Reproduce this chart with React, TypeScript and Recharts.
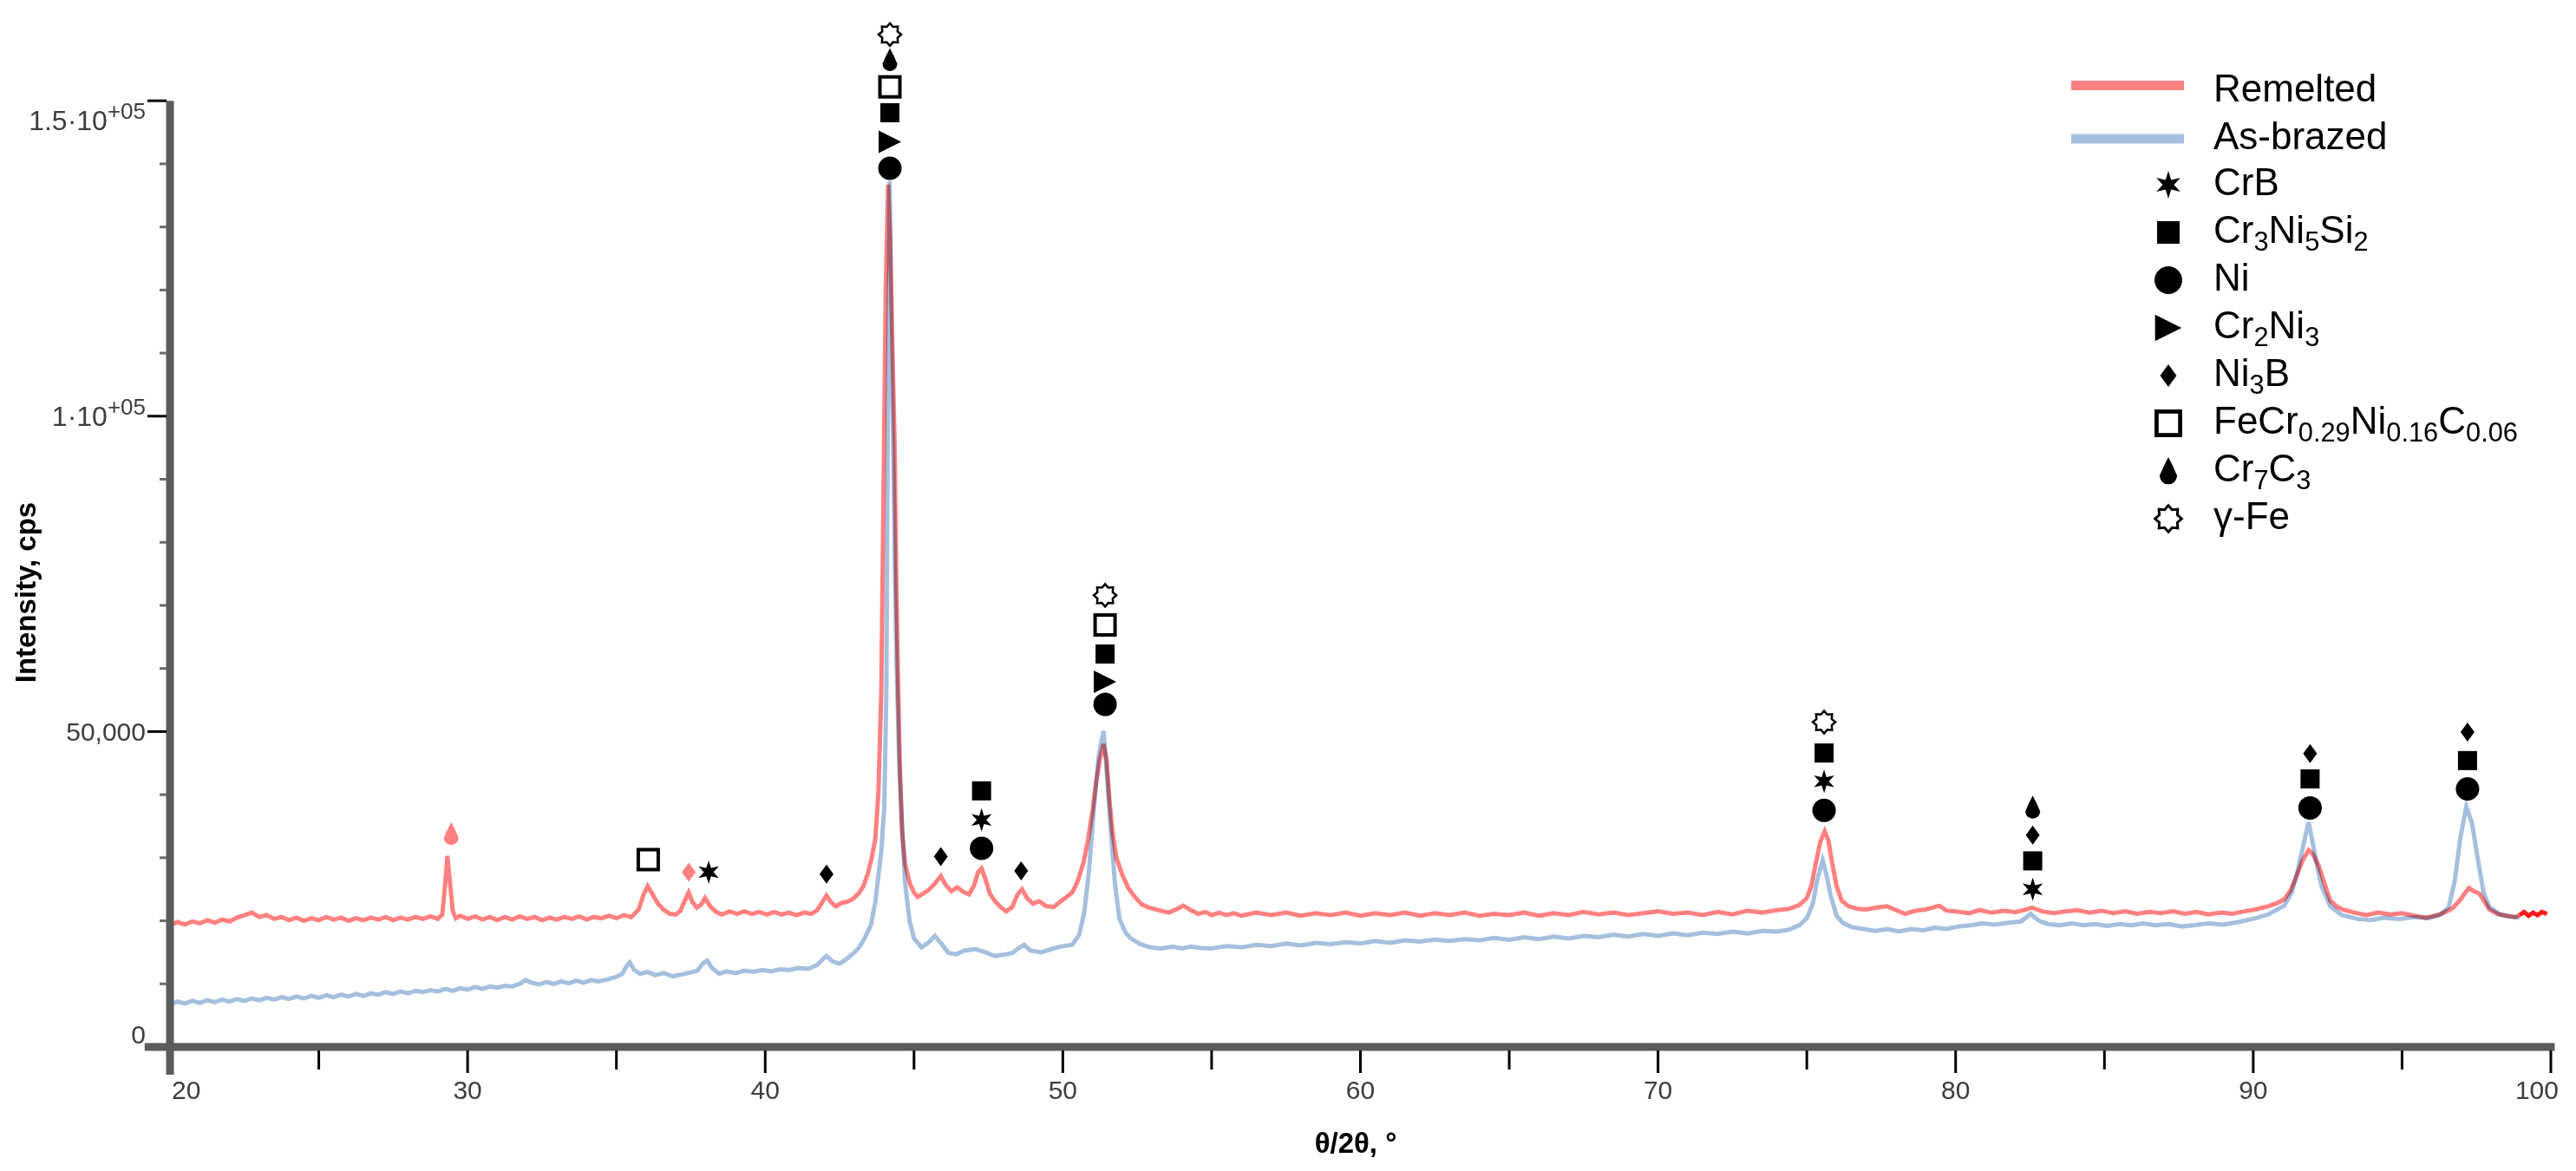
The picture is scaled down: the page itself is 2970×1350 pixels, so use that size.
import React from "react"
import {
  ComposedChart,
  Line,
  Scatter,
  XAxis,
  YAxis,
  ReferenceLine,
  Legend,
  Label,
} from "recharts"

const FONT = '"Liberation Sans", Arial, Helvetica, sans-serif'
const REMELTED_COLOR = "#ff8080"
const REMELTED_END_COLOR = "#ff1a1a"
const AS_BRAZED_COLOR = "#a6bfdf"
const AXIS_COLOR = "#5b5b5b"
const TICK_TEXT = "#3d3d3d"
const LINE_W = 5

// chart geometry
const CHART_W = 2954
const CHART_H = 1334
const Y_AXIS_W = 188
const X_AXIS_H = 135
const MARGIN = { top: 10, right: 21, bottom: 0, left: 0 }
const AXIS_X = MARGIN.left + Y_AXIS_W
const AXIS_Y = CHART_H - MARGIN.bottom - X_AXIS_H

// 2θ (°), intensity (cps)
const remelted: [number, number][] = [
  [20.0, 19300], [20.25, 19800], [20.5, 19400], [20.75, 19900], [21.0, 19600], [21.25, 20100],
  [21.5, 19700], [21.75, 20200], [22.0, 19900], [22.25, 20500], [22.5, 20900], [22.75, 21300],
  [23.0, 20600], [23.25, 20900], [23.5, 20300], [23.75, 20600], [24.0, 20100], [24.25, 20500],
  [24.5, 20000], [24.75, 20400], [25.0, 20100], [25.25, 20600], [25.5, 20200], [25.75, 20500],
  [26.0, 20000], [26.25, 20400], [26.5, 20100], [26.75, 20500], [27.0, 20200], [27.25, 20600],
  [27.5, 20100], [27.75, 20500], [28.0, 20200], [28.25, 20600], [28.5, 20300], [28.75, 20700],
  [29.0, 20300], [29.15, 21000], [29.25, 26000], [29.32, 30300], [29.4, 26500], [29.5, 21600],
  [29.6, 20400], [29.75, 20800], [30.0, 20300], [30.25, 20700], [30.5, 20200], [30.75, 20600],
  [31.0, 20100], [31.25, 20600], [31.5, 20200], [31.75, 20700], [32.0, 20300], [32.25, 20600],
  [32.5, 20100], [32.75, 20500], [33.0, 20200], [33.25, 20600], [33.5, 20300], [33.75, 20700],
  [34.0, 20200], [34.25, 20600], [34.5, 20400], [34.75, 20800], [35.0, 20400], [35.25, 20900],
  [35.5, 20600], [35.75, 21800], [35.9, 24000], [36.05, 25500], [36.2, 24300], [36.4, 22700],
  [36.6, 21700], [36.8, 21100], [37.0, 21000], [37.15, 21600], [37.3, 23200], [37.43, 24500],
  [37.55, 23000], [37.7, 22100], [37.85, 22600], [37.98, 23600], [38.15, 22300], [38.35, 21400],
  [38.55, 21000], [38.8, 21500], [39.05, 21100], [39.3, 21500], [39.55, 21100], [39.8, 21400],
  [40.05, 21000], [40.3, 21400], [40.55, 21000], [40.8, 21300], [41.05, 20900], [41.3, 21300],
  [41.55, 21100], [41.75, 21700], [41.95, 23200], [42.06, 24000], [42.2, 23000], [42.38, 22300],
  [42.55, 22800], [42.75, 23000], [42.95, 23500], [43.15, 24400], [43.3, 25500], [43.45, 27500],
  [43.58, 30000], [43.7, 33000], [43.8, 40000], [43.9, 56000], [43.98, 90000], [44.05, 120000],
  [44.13, 136700], [44.2, 128000], [44.27, 112000], [44.35, 95000], [44.41, 72000], [44.47, 56000],
  [44.54, 42000], [44.6, 34000], [44.7, 29000], [44.86, 25900], [45.0, 24500], [45.12, 23800],
  [45.3, 24300], [45.5, 24900], [45.7, 25900], [45.9, 27100], [46.05, 25800], [46.25, 24700],
  [46.45, 25300], [46.65, 24600], [46.85, 24200], [47.02, 25600], [47.15, 27700], [47.27, 28300],
  [47.4, 26600], [47.55, 24300], [47.72, 23100], [47.9, 22200], [48.1, 21500], [48.3, 22200],
  [48.48, 24200], [48.63, 25000], [48.8, 23600], [49.0, 22700], [49.2, 23100], [49.45, 22300],
  [49.7, 22200], [49.9, 23000], [50.1, 23700], [50.32, 24500], [50.5, 26300], [50.7, 29300],
  [50.85, 32900], [51.0, 37500], [51.12, 42000], [51.24, 45500], [51.37, 48000], [51.47, 45500],
  [51.57, 39000], [51.67, 34000], [51.8, 30000], [52.0, 27300], [52.2, 25200], [52.4, 23900],
  [52.65, 22600], [52.9, 22100], [53.2, 21700], [53.55, 21300], [53.85, 21900], [54.05, 22400],
  [54.3, 21700], [54.55, 21100], [54.8, 21400], [55.0, 20900], [55.25, 21300], [55.5, 20900],
  [55.75, 21200], [56.0, 20800], [56.5, 21300], [57.0, 20900], [57.5, 21300], [58.0, 20800],
  [58.5, 21200], [59.0, 20900], [59.5, 21300], [60.0, 20800], [60.5, 21200], [61.0, 20900],
  [61.5, 21300], [62.0, 20800], [62.5, 21200], [63.0, 20900], [63.5, 21300], [64.0, 20800],
  [64.5, 21100], [65.0, 20900], [65.5, 21300], [66.0, 20800], [66.5, 21200], [67.0, 20900],
  [67.5, 21400], [68.0, 21000], [68.5, 21300], [69.0, 20900], [69.5, 21200], [70.0, 21500],
  [70.5, 21100], [71.0, 21300], [71.5, 20900], [72.0, 21400], [72.5, 21000], [73.0, 21600],
  [73.5, 21300], [74.0, 21700], [74.4, 21900], [74.75, 22500], [75.0, 23600], [75.15, 25500],
  [75.3, 29100], [75.45, 32500], [75.6, 34200], [75.72, 32800], [75.87, 28700], [76.0, 25500],
  [76.17, 23200], [76.4, 22300], [76.7, 21900], [77.0, 21800], [77.35, 22100], [77.7, 22300],
  [78.0, 21700], [78.3, 21100], [78.65, 21600], [79.0, 21800], [79.45, 22400], [79.7, 21600],
  [80.0, 21500], [80.45, 21200], [80.8, 21700], [81.2, 21300], [81.6, 21600], [82.0, 21400],
  [82.3, 21700], [82.57, 22100], [82.9, 21500], [83.3, 21200], [83.7, 21500], [84.1, 21700],
  [84.5, 21300], [84.9, 21600], [85.3, 21200], [85.7, 21500], [86.1, 21100], [86.5, 21400],
  [86.9, 21200], [87.3, 21500], [87.7, 21100], [88.1, 21400], [88.5, 21000], [88.9, 21300],
  [89.3, 21100], [89.7, 21500], [90.07, 21800], [90.5, 22300], [90.8, 22800], [91.04, 23400],
  [91.25, 24800], [91.43, 26800], [91.65, 29500], [91.86, 31200], [92.0, 30600], [92.2, 28700],
  [92.4, 25800], [92.59, 23200], [92.8, 22300], [93.0, 21800], [93.4, 21300], [93.8, 20900],
  [94.2, 21300], [94.6, 21000], [95.0, 21200], [95.4, 20800], [95.8, 20500], [96.2, 20900],
  [96.5, 21500], [96.7, 22000], [96.95, 23300], [97.1, 24300], [97.25, 25200], [97.4, 24700],
  [97.6, 24300], [97.78, 23000], [97.93, 21800], [98.2, 21100], [98.5, 20800], [98.8, 20600],
  [98.95, 20900],
]

// last stretch of the remelted scan, past the end of the as-brazed one
const remeltedEnd: [number, number][] = [
  [98.95, 20900], [99.1, 21400], [99.25, 20800], [99.4, 21300], [99.55, 20900], [99.7, 21400],
  [99.87, 21100],
]

const asBrazed: [number, number][] = [
  [20.0, 6700], [20.25, 7200], [20.5, 6900], [20.75, 7300], [21.0, 7000], [21.25, 7400],
  [21.5, 7100], [21.75, 7500], [22.0, 7200], [22.25, 7600], [22.5, 7300], [22.75, 7700],
  [23.0, 7400], [23.25, 7800], [23.5, 7500], [23.75, 7900], [24.0, 7600], [24.25, 8000],
  [24.5, 7700], [24.75, 8100], [25.0, 7800], [25.25, 8200], [25.5, 7900], [25.75, 8300],
  [26.0, 8000], [26.25, 8400], [26.5, 8100], [26.75, 8500], [27.0, 8300], [27.25, 8700],
  [27.5, 8400], [27.75, 8800], [28.0, 8500], [28.25, 8900], [28.5, 8700], [28.75, 9000],
  [29.0, 8800], [29.25, 9200], [29.5, 8900], [29.75, 9300], [30.0, 9100], [30.25, 9500],
  [30.5, 9200], [30.75, 9600], [31.0, 9400], [31.25, 9700], [31.5, 9600], [31.75, 10000],
  [31.95, 10600], [32.15, 10200], [32.4, 9900], [32.65, 10300], [32.9, 10000], [33.15, 10400],
  [33.4, 10100], [33.65, 10500], [33.9, 10200], [34.15, 10600], [34.4, 10400], [34.7, 10700],
  [35.0, 11100], [35.2, 11600], [35.35, 12900], [35.45, 13400], [35.6, 12200], [35.8, 11600],
  [36.05, 11900], [36.3, 11400], [36.6, 11700], [36.9, 11200], [37.2, 11500], [37.5, 11800],
  [37.72, 12100], [37.9, 13200], [38.05, 13700], [38.2, 12600], [38.45, 11600], [38.7, 12000],
  [39.0, 11700], [39.3, 12100], [39.6, 11900], [39.9, 12200], [40.2, 12000], [40.5, 12300],
  [40.8, 12200], [41.1, 12500], [41.47, 12400], [41.75, 13000], [41.95, 14000], [42.06, 14400],
  [42.25, 13600], [42.5, 13200], [42.75, 14000], [43.0, 15000], [43.16, 15800], [43.35, 17300],
  [43.55, 19300], [43.7, 23000], [43.8, 27000], [43.9, 31000], [44.0, 38000], [44.07, 56000],
  [44.12, 100000], [44.18, 137300], [44.24, 112000], [44.3, 95000], [44.36, 75000], [44.42, 60000],
  [44.5, 45000], [44.6, 35000], [44.7, 26000], [44.85, 20000], [45.0, 17200], [45.25, 15800],
  [45.5, 16600], [45.7, 17600], [45.9, 16500], [46.16, 14900], [46.42, 14700], [46.7, 15300],
  [47.07, 15500], [47.4, 15000], [47.72, 14400], [48.0, 14600], [48.3, 14900], [48.5, 15600],
  [48.7, 16200], [48.9, 15300], [49.28, 15000], [49.6, 15500], [49.9, 15900], [50.32, 16200],
  [50.55, 17800], [50.72, 21300], [50.88, 28000], [51.04, 37500], [51.2, 46000], [51.37, 50100],
  [51.5, 42000], [51.6, 35200], [51.75, 26000], [51.9, 20400], [52.1, 18200], [52.28, 17200],
  [52.6, 16300], [52.93, 15800], [53.3, 15600], [53.7, 15900], [54.0, 15600], [54.3, 15900],
  [54.6, 15700], [55.0, 15600], [55.5, 16000], [56.0, 15800], [56.5, 16200], [57.0, 16000],
  [57.5, 16400], [58.0, 16100], [58.5, 16500], [59.0, 16300], [59.5, 16600], [60.0, 16400],
  [60.5, 16800], [61.0, 16500], [61.5, 16900], [62.0, 16700], [62.5, 17000], [63.0, 16800],
  [63.5, 17100], [64.0, 16900], [64.5, 17300], [65.0, 17000], [65.5, 17400], [66.0, 17100],
  [66.5, 17500], [67.0, 17200], [67.5, 17600], [68.0, 17400], [68.5, 17800], [69.0, 17500],
  [69.5, 17900], [70.0, 17600], [70.5, 18000], [71.0, 17700], [71.5, 18100], [72.0, 17900],
  [72.5, 18300], [73.0, 18000], [73.5, 18400], [74.0, 18300], [74.4, 18600], [74.75, 19300],
  [75.0, 20400], [75.2, 22700], [75.35, 26500], [75.53, 29600], [75.65, 27500], [75.8, 24000],
  [76.0, 20800], [76.2, 19700], [76.5, 19000], [76.9, 18700], [77.3, 18400], [77.7, 18700],
  [78.1, 18300], [78.5, 18700], [78.9, 18500], [79.3, 18900], [79.7, 18700], [80.1, 19100],
  [80.5, 19300], [80.9, 19600], [81.3, 19400], [81.8, 19700], [82.2, 19900], [82.52, 21100],
  [82.8, 20000], [83.1, 19500], [83.5, 19300], [83.9, 19600], [84.3, 19300], [84.7, 19500],
  [85.1, 19200], [85.5, 19500], [85.9, 19300], [86.3, 19600], [86.7, 19300], [87.16, 19500],
  [87.6, 19100], [88.0, 19300], [88.5, 19600], [89.0, 19400], [89.5, 19800], [90.07, 20400],
  [90.5, 21000], [91.04, 22400], [91.3, 24600], [91.5, 28000], [91.72, 32800], [91.86, 35600],
  [92.0, 32300], [92.15, 28500], [92.3, 25400], [92.59, 22300], [92.98, 20900], [93.5, 20300],
  [93.95, 20100], [94.4, 20500], [94.92, 20300], [95.4, 20600], [95.89, 20400], [96.3, 21000],
  [96.57, 22200], [96.77, 26300], [96.96, 33200], [97.16, 38100], [97.35, 35500], [97.54, 30000],
  [97.74, 24500], [97.93, 22200], [98.3, 21000], [98.6, 20700], [98.95, 20500],
]

type Sym = "star" | "square" | "circle" | "triangle" | "diamond" | "openSquare" | "drop" | "sun"

// phase labels placed over the reflections: 2θ, height (cps), phase symbol, sample if only one
const phaseMarks: { x: number; y: number; sym: Sym; only?: "remelted" }[] = [
  { x: 29.45, y: 33800, sym: "drop", only: "remelted" },
  { x: 36.07, y: 29700, sym: "openSquare" },
  { x: 37.43, y: 27700, sym: "diamond", only: "remelted" },
  { x: 38.1, y: 27700, sym: "star" },
  { x: 42.06, y: 27400, sym: "diamond" },
  { x: 44.19, y: 139300, sym: "circle" },
  { x: 44.19, y: 143500, sym: "triangle" },
  { x: 44.19, y: 148100, sym: "square" },
  { x: 44.19, y: 152200, sym: "openSquare" },
  { x: 44.19, y: 156500, sym: "drop" },
  { x: 44.19, y: 160500, sym: "sun" },
  { x: 45.9, y: 30200, sym: "diamond" },
  { x: 47.27, y: 31500, sym: "circle" },
  { x: 47.27, y: 36000, sym: "star" },
  { x: 47.27, y: 40600, sym: "square" },
  { x: 48.6, y: 27900, sym: "diamond" },
  { x: 51.42, y: 54300, sym: "circle" },
  { x: 51.42, y: 57900, sym: "triangle" },
  { x: 51.42, y: 62300, sym: "square" },
  { x: 51.42, y: 66900, sym: "openSquare" },
  { x: 51.42, y: 71600, sym: "sun" },
  { x: 75.58, y: 37500, sym: "circle" },
  { x: 75.58, y: 42100, sym: "star" },
  { x: 75.58, y: 46600, sym: "square" },
  { x: 75.58, y: 51500, sym: "sun" },
  { x: 82.59, y: 25000, sym: "star" },
  { x: 82.59, y: 29500, sym: "square" },
  { x: 82.59, y: 33600, sym: "diamond" },
  { x: 82.59, y: 38000, sym: "drop" },
  { x: 91.91, y: 37900, sym: "circle" },
  { x: 91.91, y: 42500, sym: "square" },
  { x: 91.91, y: 46500, sym: "diamond" },
  { x: 97.2, y: 40900, sym: "circle" },
  { x: 97.2, y: 45400, sym: "square" },
  { x: 97.2, y: 49900, sym: "diamond" },
]

const samples = [
  { name: "Remelted", color: REMELTED_COLOR },
  { name: "As-brazed", color: AS_BRAZED_COLOR },
]

const phases: { sym: Sym; label: string }[] = [
  { sym: "star", label: "CrB" },
  { sym: "square", label: "Cr_{3}Ni_{5}Si_{2}" },
  { sym: "circle", label: "Ni" },
  { sym: "triangle", label: "Cr_{2}Ni_{3}" },
  { sym: "diamond", label: "Ni_{3}B" },
  { sym: "openSquare", label: "FeCr_{0.29}Ni_{0.16}C_{0.06}" },
  { sym: "drop", label: "Cr_{7}C_{3}" },
  { sym: "sun", label: "γ-Fe" },
]

const xTicks = [20, 25, 30, 35, 40, 45, 50, 55, 60, 65, 70, 75, 80, 85, 90, 95, 100]
const yTicks = [
  0, 10000, 20000, 30000, 40000, 50000, 60000, 70000, 80000, 90000, 100000,
  110000, 120000, 130000, 140000, 150000,
]
const yTickLabels: Record<number, [string, string?]> = {
  0: ["0"],
  50000: ["50,000"],
  100000: ["1·10", "+05"],
  150000: ["1.5·10", "+05"],
}

const toPoints = (rows: [number, number][]) => rows.map(([x, y]) => ({ x, y }))

function Glyph({ sym, cx, cy, k = 1, color = "#000" }: { sym: Sym; cx: number; cy: number; k?: number; color?: string }) {
  switch (sym) {
    case "circle":
      return <circle cx={cx} cy={cy} r={13.5 * k} fill={color} />
    case "square": {
      const s = 22 * k
      return <rect x={cx - s / 2} y={cy - s / 2} width={s} height={s} fill={color} />
    }
    case "openSquare": {
      const s = 23 * k
      return <rect x={cx - s / 2} y={cy - s / 2} width={s} height={s} fill="#fff" stroke={color} strokeWidth={4 * k} />
    }
    case "triangle": {
      const w = 26 * k
      const h = 26 * k
      return <polygon points={`${cx - w / 2},${cy - h / 2} ${cx + w / 2},${cy} ${cx - w / 2},${cy + h / 2}`} fill={color} />
    }
    case "diamond": {
      const w = 16 * k
      const h = 22 * k
      return <polygon points={`${cx},${cy - h / 2} ${cx + w / 2},${cy} ${cx},${cy + h / 2} ${cx - w / 2},${cy}`} fill={color} />
    }
    case "star": {
      const pts: string[] = []
      for (let i = 0; i < 12; i++) {
        const r = (i % 2 === 0 ? 13.5 : 5.5) * k
        const a = -Math.PI / 2 + (i * Math.PI) / 6
        pts.push(`${cx + r * Math.cos(a)},${cy + r * Math.sin(a)}`)
      }
      return <polygon points={pts.join(" ")} fill={color} />
    }
    case "sun": {
      const pts: string[] = []
      for (let i = 0; i < 16; i++) {
        const r = (i % 2 === 0 ? 13 : 9.5) * k
        const a = -Math.PI / 2 + (i * Math.PI) / 8
        pts.push(`${cx + r * Math.cos(a)},${cy + r * Math.sin(a)}`)
      }
      return <polygon points={pts.join(" ")} fill="#fff" stroke={color} strokeWidth={2.5 * k} strokeLinejoin="miter" />
    }
    case "drop": {
      const r = 8.5 * k
      const by = cy + 4.5 * k
      const ty = cy - 13.5 * k
      const d = `M ${cx} ${ty} Q ${cx + r * 0.55} ${by - r * 1.1} ${cx + r} ${by} A ${r} ${r} 0 1 1 ${cx - r} ${by} Q ${cx - r * 0.55} ${by - r * 1.1} ${cx} ${ty} Z`
      return <path d={d} fill={color} />
    }
  }
  return null
}

function Formula({ text, x, y, size }: { text: string; x: number; y: number; size: number }) {
  const parts = text.split(/(_\{[^}]*\})/).filter(Boolean)
  let low = false
  const drop = size * 0.2
  return (
    <text x={x} y={y} fontSize={size} fontFamily={FONT} fill="#000">
      {parts.map((p, i) => {
        if (p.startsWith("_{")) {
          const dy = low ? 0 : drop
          low = true
          return (
            <tspan key={i} dy={dy} fontSize={size * 0.7}>
              {p.slice(2, -1)}
            </tspan>
          )
        }
        const dy = low ? -drop : 0
        low = false
        return (
          <tspan key={i} dy={dy}>
            {p}
          </tspan>
        )
      })}
    </text>
  )
}

function renderLegend() {
  return (
    <svg width={600} height={560} style={{ overflow: "visible" }}>
      {samples.map((s, i) => (
        <g key={s.name}>
          <rect x={20} y={30.5 + i * 61.5 - 5.5} width={130} height={11} fill={s.color} />
          <text x={184} y={49 + i * 55} fontSize={44} fontFamily={FONT} fill="#000">
            {s.name}
          </text>
        </g>
      ))}
      {phases.map((p, i) => {
        const base = 157 + i * 55
        return (
          <g key={p.label}>
            <Glyph sym={p.sym} cx={132} cy={base - 12} k={1.18} />
            <Formula text={p.label} x={184} y={base} size={44} />
          </g>
        )
      })}
    </svg>
  )
}

function XTick(props: any) {
  const { x, payload } = props
  const v = payload.value as number
  const major = v % 10 === 0
  const anchor = v === 20 ? "start" : v === 100 ? "end" : "middle"
  const tx = v === 20 ? x + 2 : v === 100 ? x + 9 : x
  return (
    <g>
      {v !== 20 && (
        <line x1={x} x2={x} y1={AXIS_Y + 4} y2={AXIS_Y + (major ? 30 : 26)} stroke="#000" strokeWidth={3} />
      )}
      {major && (
        <text x={tx} y={AXIS_Y + 60} textAnchor={anchor} fontSize={30} fontFamily={FONT} fill={TICK_TEXT}>
          {v}
        </text>
      )}
    </g>
  )
}

function YTick(props: any) {
  const { y, payload } = props
  const v = payload.value as number
  const label = yTickLabels[v]
  if (!label) {
    return <line x1={AXIS_X - 12} x2={AXIS_X - 4} y1={y} y2={y} stroke="#6b6b6b" strokeWidth={3} />
  }
  const shift = v === 0 ? -4 : v === 150000 ? 34 : 11
  return (
    <g>
      {v !== 0 && <line x1={AXIS_X - 26} x2={AXIS_X - 4} y1={y} y2={y} stroke="#000" strokeWidth={3} />}
      <text x={AXIS_X - 28} y={y + shift} textAnchor="end" fontSize={label[1] ? 32 : 30} fontFamily={FONT} fill={TICK_TEXT}>
        {label[0]}
        {label[1] && (
          <tspan dy={-13} fontSize={26}>
            {label[1]}
          </tspan>
        )}
      </text>
    </g>
  )
}

export default function App() {
  return (
    <div style={{ width: CHART_W, height: CHART_H, background: "#fff" }}>
      <style>{`.as-brazed-line { mix-blend-mode: multiply; }`}</style>
      <ComposedChart width={CHART_W} height={CHART_H} margin={MARGIN}>
        <XAxis
          type="number"
          dataKey="x"
          domain={[20, 100]}
          ticks={xTicks}
          interval={0}
          axisLine={false}
          tickLine={false}
          height={X_AXIS_H}
          tick={(p: any) => <XTick {...p} />}
        >
          <Label
            content={() => (
              <text x={1555} y={1321} textAnchor="middle" fontSize={33} fontWeight="bold" fontFamily={FONT} fill="#000">
                θ/2θ, °
              </text>
            )}
          />
        </XAxis>
        <YAxis
          type="number"
          dataKey="y"
          domain={[0, 163500]}
          ticks={yTicks}
          interval={0}
          axisLine={false}
          tickLine={false}
          width={Y_AXIS_W}
          tick={(p: any) => <YTick {...p} />}
        >
          <Label
            content={() => (
              <text
                x={33}
                y={675}
                transform="rotate(-90 33 675)"
                textAnchor="middle"
                fontSize={33}
                fontWeight="bold"
                fontFamily={FONT}
                fill="#000"
              >
                Intensity, cps
              </text>
            )}
          />
        </YAxis>
        <Legend
          layout="vertical"
          align="center"
          verticalAlign="middle"
          wrapperStyle={{ left: 2360, top: 60, width: 600, height: 560 }}
          content={renderLegend}
        />
        <Line
          data={toPoints(remelted)}
          dataKey="y"
          name="Remelted"
          type="linear"
          stroke={REMELTED_COLOR}
          strokeWidth={LINE_W}
          dot={false}
          activeDot={false}
          isAnimationActive={false}
        />
        <Line
          data={toPoints(remeltedEnd)}
          dataKey="y"
          name="Remelted end"
          type="linear"
          stroke={REMELTED_END_COLOR}
          strokeWidth={LINE_W}
          dot={false}
          activeDot={false}
          isAnimationActive={false}
          legendType="none"
        />
        <Line
          data={toPoints(asBrazed)}
          dataKey="y"
          name="As-brazed"
          className="as-brazed-line"
          type="linear"
          stroke={AS_BRAZED_COLOR}
          strokeWidth={LINE_W}
          dot={false}
          activeDot={false}
          isAnimationActive={false}
        />
        <Scatter
          data={phaseMarks}
          dataKey="y"
          isAnimationActive={false}
          shape={(p: any) => (
            <Glyph
              sym={p.payload.sym}
              cx={p.cx}
              cy={p.cy}
              color={p.payload.only === "remelted" ? REMELTED_COLOR : "#000"}
            />
          )}
        />
        <ReferenceLine
          segment={[{ x: 19.15, y: 0 }, { x: 100.13, y: 0 }]}
          stroke={AXIS_COLOR}
          strokeWidth={9}
          ifOverflow="visible"
        />
        <ReferenceLine
          segment={[{ x: 20, y: -4400 }, { x: 20, y: 150000 }]}
          stroke={AXIS_COLOR}
          strokeWidth={9}
          ifOverflow="visible"
        />
      </ComposedChart>
    </div>
  )
}
